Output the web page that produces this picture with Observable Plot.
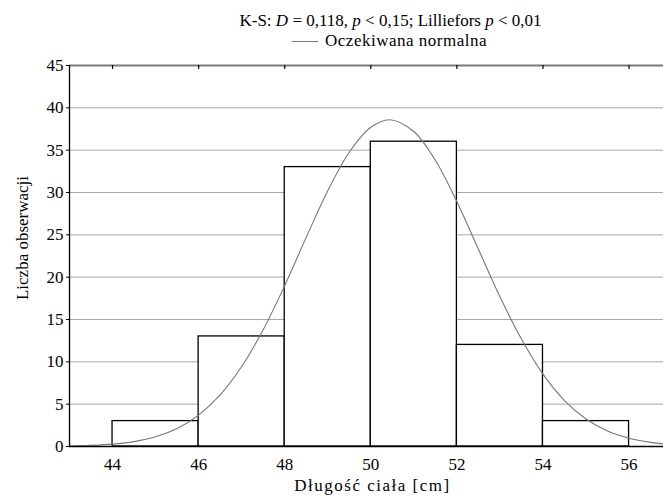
<!DOCTYPE html>
<html>
<head>
<meta charset="utf-8">
<script src="https://cdn.jsdelivr.net/npm/d3@7"></script>
<script src="https://cdn.jsdelivr.net/npm/@observablehq/plot@0.6"></script>
<style>
  html, body { margin: 0; padding: 0; background: #fff; }
  #wrap { width: 663px; font-family: "Times New Roman", "Liberation Serif", serif; color: #000; }
  #title { font-size: 17px; line-height: 20px; height: 20px; padding-top: 11px; padding-left: 118px; text-align: center; }
  #legend { font-size: 17px; line-height: 20px; height: 20px; padding-left: 116px; text-align: center; letter-spacing: 0.5px; }
  #legend .sw { display: inline-block; width: 26px; height: 0; border-top: 1px solid #777; vertical-align: middle; margin-right: 7px; position: relative; top: -1px; }
  svg { display: block; }
  svg, svg text { font-family: "Times New Roman", "Liberation Serif", serif !important; }
  svg text.xlab { letter-spacing: 1.5px; }
</style>
</head>
<body>
<div id="wrap">
  <div id="title">K-S: <i>D</i> = 0,118, <i>p</i> &lt; 0,15; Lilliefors <i>p</i> &lt; 0,01</div>
  <div id="legend"><span class="sw"></span>Oczekiwana normalna</div>
  <div id="chart"></div>
</div>
<script>
// Histogram bins (lower edge, upper edge) and counts
const binStart = [44, 46, 48, 50, 52, 54];
const binEnd   = [46, 48, 50, 52, 54, 56];
const counts   = [3, 13, 33, 36, 12, 3];

// Expected normal curve
const curveX = [43, 43.5, 44, 44.5, 45, 45.5, 46, 46.5, 47, 47.5, 48, 48.5, 49, 49.5, 50, 50.44, 51, 51.5, 52, 52.5, 53, 53.5, 54, 54.5, 55, 55.5, 56, 56.5, 56.8];
const curveY = [0.05, 0.13, 0.28, 0.58, 1.14, 2.12, 3.7, 6.09, 9.45, 13.8, 19.0, 24.7, 30.2, 34.75, 37.7, 38.6, 37.2, 33.8, 28.9, 23.3, 17.7, 12.7, 8.55, 5.43, 3.25, 1.84, 0.98, 0.49, 0.31];

const xTicks = [44, 46, 48, 50, 52, 54, 56];
const yTicks = [0, 5, 10, 15, 20, 25, 30, 35, 40, 45];
const gridY = [5, 10, 15, 20, 25, 30, 35, 40];
const xLabel = "Długość ciała [cm]";
const yLabel = "Liczba obserwacji";

const bars = binStart.map((s, i) => ({x1: s, x2: binEnd[i], y: counts[i]}));
const curve = curveX.map((x, i) => ({x, y: curveY[i]}));

const FONT = "Times New Roman, Liberation Serif, serif";

const chart = Plot.plot({
  width: 663,
  height: 446,
  marginLeft: 69,
  marginRight: 0,
  marginTop: 14,
  marginBottom: 51,
  style: {fontFamily: FONT, fontSize: "17px", color: "#000", background: "#fff"},
  x: {domain: [43, 56.8]},
  y: {domain: [0, 45]},
  marks: [
    Plot.ruleY(gridY, {stroke: "#a8a8a8", strokeWidth: 1}),
    Plot.rectY(bars, {x1: "x1", x2: "x2", y: "y", fill: "#fff", stroke: "#000", strokeWidth: 1.3}),
    Plot.line(curve, {x: "x", y: "y", curve: "catmull-rom", stroke: "#777", strokeWidth: 1.1}),
    Plot.ruleY([45], {stroke: "#7a7a7a", strokeWidth: 2}),
    Plot.ruleX(xTicks, {x: d => d, y1: 45, y2: 45, insetTop: 0, insetBottom: -4, stroke: "#000", strokeWidth: 1.2}),
    Plot.ruleY([0], {stroke: "#000", strokeWidth: 1.3}),
    Plot.ruleX([43], {stroke: "#000", strokeWidth: 1.3}),
    Plot.axisY({ticks: yTicks, tickSize: 3, tickPadding: 3, label: null, fontSize: 17, fontFamily: FONT}),
    Plot.axisX({ticks: xTicks, tickSize: 0, tickPadding: 11, label: null, fontSize: 17, fontFamily: FONT}),
    Plot.text([yLabel], {frameAnchor: "left", textAnchor: "middle", dx: -47, dy: -18, rotate: -90, fontSize: 17, fontFamily: FONT, text: d => d}),
    Plot.text([xLabel], {frameAnchor: "bottom", dx: 6, dy: 44, fontSize: 17, fontFamily: FONT, text: d => d})
  ]
});
d3.select(chart).selectAll("text").filter(function () { return this.textContent === xLabel; }).classed("xlab", true);
document.getElementById("chart").appendChild(chart);
</script>
</body>
</html>
